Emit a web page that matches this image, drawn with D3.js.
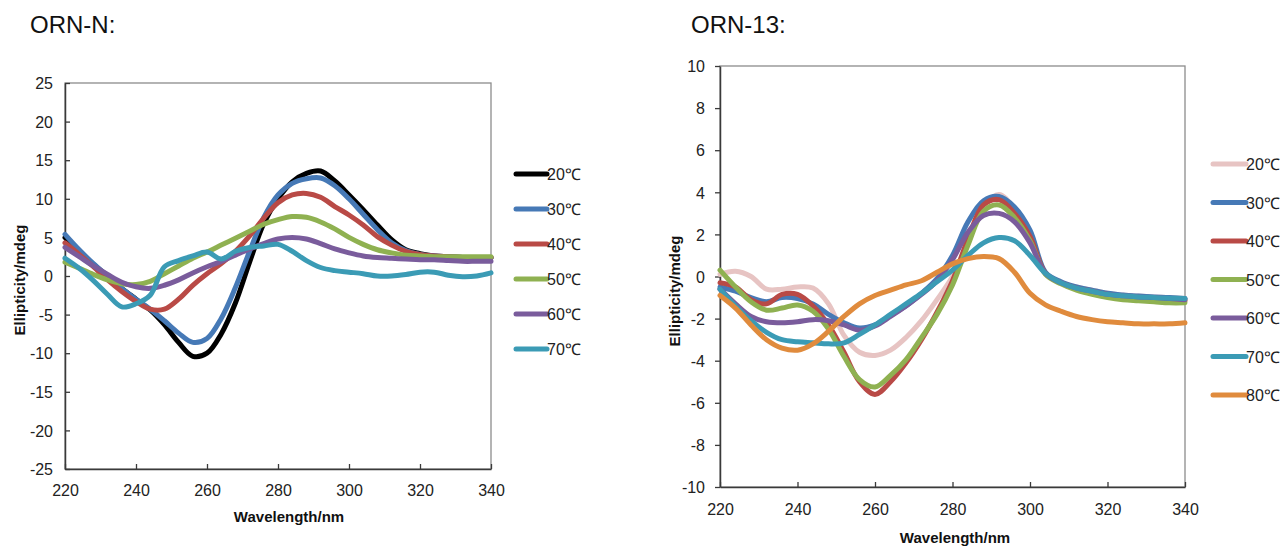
<!DOCTYPE html>
<html>
<head>
<meta charset="utf-8">
<script src="https://cdn.jsdelivr.net/npm/d3@7"></script>
<style>
  body { margin: 0; background: #fff; }
  svg { font-family: "Liberation Sans", Arial, sans-serif; }
  .tick text { fill: #222; font-size: 16px; }
  .os-oznaka { font-weight: bold; font-size: 15px; fill: #111; }
  .naslov { font-size: 24px; fill: #111; }
  .legenda text { font-size: 16px; fill: #222; }
</style>
</head>
<body>
<div id="okvir"></div>
<script>
// wavelengths (nm), shared by both panels
const valneDuljine = [220, 224, 228, 232, 236, 240, 244, 248, 252, 256, 260, 264, 268, 272, 276, 280,
  284, 288, 292, 296, 300, 304, 308, 312, 316, 320, 324, 328, 332, 336, 340]

// ORN-N
const ornN_20 = [5.0, 3.2, 1.5, 0.0, -1.6, -3.0, -4.4, -6.3, -8.6, -10.4, -10.0, -7.5, -3.5, 1.8, 6.8, 10.0,
  12.2, 13.3, 13.6, 12.3, 10.5, 8.6, 6.6, 4.7, 3.4, 2.9, 2.6, 2.5, 2.4, 2.4, 2.4]
const ornN_30 = [5.4, 3.4, 1.6, 0.0, -1.6, -3.0, -4.3, -5.8, -7.4, -8.6, -8.1, -5.5, -1.5, 3.2, 7.6, 10.5,
  12.0, 12.6, 12.7, 11.7, 10.0, 8.0, 6.0, 4.3, 3.3, 2.8, 2.6, 2.5, 2.4, 2.3, 2.3]
const ornN_40 = [4.3, 2.8, 1.2, -0.5, -2.0, -3.3, -4.3, -4.3, -3.0, -1.2, 0.3, 1.6, 3.2, 5.2, 7.5, 9.5,
  10.5, 10.7, 10.2, 9.0, 7.9, 6.6, 5.1, 4.0, 3.2, 2.8, 2.6, 2.5, 2.4, 2.4, 2.4]
const ornN_50 = [1.8, 1.0, 0.2, -0.5, -1.0, -1.1, -0.7, 0.3, 1.3, 2.3, 3.1, 4.0, 4.9, 5.8, 6.7, 7.3,
  7.7, 7.6, 7.0, 6.1, 5.0, 4.1, 3.4, 3.0, 2.7, 2.6, 2.5, 2.5, 2.5, 2.5, 2.5]
const ornN_60 = [3.7, 2.5, 1.3, 0.2, -0.8, -1.4, -1.6, -1.2, -0.5, 0.4, 1.2, 1.9, 2.7, 3.5, 4.2, 4.8,
  5.0, 4.8, 4.2, 3.5, 3.0, 2.6, 2.4, 2.3, 2.2, 2.1, 2.1, 2.0, 1.9, 1.9, 1.9]
const ornN_70 = [2.3, 1.0, -0.6, -2.4, -4.0, -3.6, -2.5, 1.2, 2.0, 2.6, 3.1, 2.2, 3.2, 3.7, 3.9, 4.1,
  3.2, 2.0, 1.1, 0.7, 0.5, 0.3, 0.0, 0.0, 0.2, 0.5, 0.5, 0.1, -0.1, 0.0, 0.4]

// ORN-13
const orn13_20 = [0.1, 0.25, 0.0, -0.6, -0.6, -0.5, -0.55, -1.3, -2.8, -3.6, -3.75, -3.5, -2.9, -2.1, -1.1, 0.0,
  1.6, 3.3, 3.9, 3.2, 1.9, 0.15, -0.3, -0.5, -0.65, -0.8, -0.88, -0.93, -0.97, -1.0, -1.05]
const orn13_30 = [-0.5, -0.7, -1.0, -1.2, -1.0, -1.05, -1.3, -1.8, -2.2, -2.45, -2.3, -1.85, -1.4, -0.8, -0.1, 1.0,
  2.6, 3.6, 3.8, 3.3, 2.2, 0.2, -0.25, -0.5, -0.65, -0.8, -0.88, -0.93, -0.97, -1.0, -1.05]
const orn13_40 = [-0.3, -0.5, -1.1, -1.3, -0.85, -0.85, -1.4, -2.3, -3.6, -5.0, -5.6, -5.0, -4.1, -3.0, -1.7, -0.2,
  1.8, 3.4, 3.65, 3.0, 1.9, 0.15, -0.3, -0.55, -0.7, -0.85, -0.95, -1.0, -1.05, -1.1, -1.15]
const orn13_50 = [0.3, -0.5, -1.2, -1.6, -1.5, -1.35, -1.65, -2.5, -3.8, -4.9, -5.25, -4.7, -3.95, -2.9, -1.8, -0.4,
  1.5, 3.1, 3.4, 2.8, 1.7, 0.1, -0.35, -0.65, -0.85, -1.0, -1.1, -1.15, -1.2, -1.25, -1.25]
const orn13_60 = [-0.6, -1.3, -1.9, -2.15, -2.2, -2.15, -2.05, -2.1, -2.3, -2.55, -2.35, -1.9, -1.4, -0.85, -0.2, 0.8,
  2.1, 2.9, 3.0, 2.6, 1.6, 0.15, -0.3, -0.55, -0.7, -0.85, -0.92, -0.97, -1.0, -1.05, -1.1]
const orn13_70 = [-0.6, -1.4, -2.1, -2.65, -3.0, -3.1, -3.15, -3.2, -3.15, -2.75, -2.3, -1.8, -1.3, -0.8, -0.25, 0.3,
  1.0, 1.6, 1.85, 1.7, 1.0, 0.15, -0.3, -0.55, -0.7, -0.85, -0.92, -0.97, -1.0, -1.03, -1.05]
const orn13_80 = [-0.9, -1.5, -2.3, -3.0, -3.4, -3.5, -3.2, -2.6, -1.9, -1.3, -0.9, -0.65, -0.4, -0.2, 0.2, 0.6,
  0.85, 0.95, 0.85, 0.2, -0.8, -1.35, -1.65, -1.9, -2.05, -2.15, -2.2, -2.25, -2.25, -2.25, -2.2]

const oznakeN = ["20℃", "30℃", "40℃", "50℃", "60℃", "70℃"]
const oznake13 = ["20℃", "30℃", "40℃", "50℃", "60℃", "70℃", "80℃"]

const xTicks = [220, 240, 260, 280, 300, 320, 340]
const yTicksN = [-25, -20, -15, -10, -5, 0, 5, 10, 15, 20, 25]
const yTicks13 = [-10, -8, -6, -4, -2, 0, 2, 4, 6, 8, 10]

const boje = {
  "20N": "#000000", "20": "#e7c4c3", "30": "#4679b6", "40": "#b94a46",
  "50": "#8fb151", "60": "#7a5c9c", "70": "#3b9bb5", "80": "#e08b3d",
}

// 1. Canvas

const okvir = d3.select("#okvir")
  .append("svg")
    .attr("width", 1287)
    .attr("height", 549)

function crtajPanel(p) {

  // 2. Scales

  const xSkala = d3.scaleLinear()
    .domain([220, 340])
    .range([p.lijevo, p.desno])

  const ySkala = d3.scaleLinear()
    .domain(d3.extent(p.yTicks))
    .range([p.dolje, p.gore])

  // 3. Frame and axes

  okvir.append("rect")
      .attr("x", p.lijevo)
      .attr("y", p.gore)
      .attr("width", p.desno - p.lijevo)
      .attr("height", p.dolje - p.gore)
      .attr("fill", "none")
      .attr("stroke", "#8c8c8c")
      .attr("stroke-width", 1.3)

  const xOs = okvir.append("g")
      .attr("transform", `translate(0, ${p.dolje})`)
      .call(d3.axisBottom(xSkala).tickValues(xTicks).tickFormat(d => String(d))
        .tickSizeInner(-5).tickSizeOuter(0).tickPadding(p.xPad))
  xOs.select(".domain").attr("stroke", "#3a3a3a").attr("stroke-width", 1.5)
  xOs.selectAll(".tick line").attr("stroke", "#3a3a3a").attr("stroke-width", 1.3)

  const yOs = okvir.append("g")
      .attr("transform", `translate(${p.lijevo}, 0)`)
      .call(d3.axisLeft(ySkala).tickValues(p.yTicks).tickFormat(d => String(d))
        .tickSizeInner(p.yTick).tickSizeOuter(0).tickPadding(p.yPad))
  yOs.select(".domain").attr("stroke", "#3a3a3a").attr("stroke-width", 1.5)
  yOs.selectAll(".tick line").attr("stroke", "#3a3a3a").attr("stroke-width", 1.3)
  yOs.selectAll(".tick text").attr("dy", "0.36em")

  okvir.append("text")
      .attr("class", "os-oznaka")
      .attr("x", p.xOznakaX)
      .attr("y", p.xOznakaY)
      .attr("text-anchor", "middle")
      .text("Wavelength/nm")

  okvir.append("text")
      .attr("class", "os-oznaka")
      .attr("transform", `translate(${p.yOznakaX}, ${p.yOznakaY}) rotate(-90)`)
      .attr("text-anchor", "middle")
      .text("Ellipticity/mdeg")

  okvir.append("text")
      .attr("class", "naslov")
      .attr("x", p.naslovX)
      .attr("y", 33)
      .text(p.naslov)

  // 4. Data lines

  const linija = d3.line()
    .x((d, i) => xSkala(valneDuljine[i]))
    .y(d => ySkala(d))
    .curve(d3.curveCatmullRom.alpha(0.5))

  okvir.append("g")
    .selectAll("path")
    .data(p.serije)
    .join("path")
      .attr("d", d => linija(d.vrijednosti))
      .attr("fill", "none")
      .attr("stroke", d => d.boja)
      .attr("stroke-width", 5)
      .attr("stroke-linejoin", "round")
      .attr("stroke-linecap", "round")

  // 5. Legend

  const legenda = okvir.append("g")
      .attr("class", "legenda")
    .selectAll("g")
    .data(p.serije)
    .join("g")
      .attr("transform", (d, i) => `translate(${p.legX}, ${p.legY + i * p.legKorak})`)

  legenda.append("line")
      .attr("x1", 0)
      .attr("x2", p.legDuljina)
      .attr("stroke", d => d.boja)
      .attr("stroke-width", 5)
      .attr("stroke-linecap", "round")

  legenda.append("text")
      .attr("x", p.legDuljina)
      .attr("y", 6)
      .text(d => d.oznaka)
}

crtajPanel({
  naslov: "ORN-N:", naslovX: 30,
  lijevo: 65, desno: 491, gore: 83, dolje: 469,
  yTicks: yTicksN, yTick: -5, yPad: 12, xPad: 16,
  xOznakaX: 289, xOznakaY: 522, yOznakaX: 25, yOznakaY: 280,
  legX: 516, legY: 174, legKorak: 35, legDuljina: 31,
  serije: [ornN_20, ornN_30, ornN_40, ornN_50, ornN_60, ornN_70].map((v, i) => ({
    vrijednosti: v, oznaka: oznakeN[i], boja: i === 0 ? boje["20N"] : boje[oznakeN[i].slice(0, 2)],
  })),
})

crtajPanel({
  naslov: "ORN-13:", naslovX: 691,
  lijevo: 720, desno: 1185, gore: 66, dolje: 487,
  yTicks: yTicks13, yTick: 5, yPad: 10, xPad: 17,
  xOznakaX: 955, xOznakaY: 543, yOznakaX: 680, yOznakaY: 291,
  legX: 1213, legY: 164, legKorak: 38.5, legDuljina: 33,
  serije: [orn13_20, orn13_30, orn13_40, orn13_50, orn13_60, orn13_70, orn13_80].map((v, i) => ({
    vrijednosti: v, oznaka: oznake13[i], boja: boje[oznake13[i].slice(0, 2)],
  })),
})
</script>
</body>
</html>
